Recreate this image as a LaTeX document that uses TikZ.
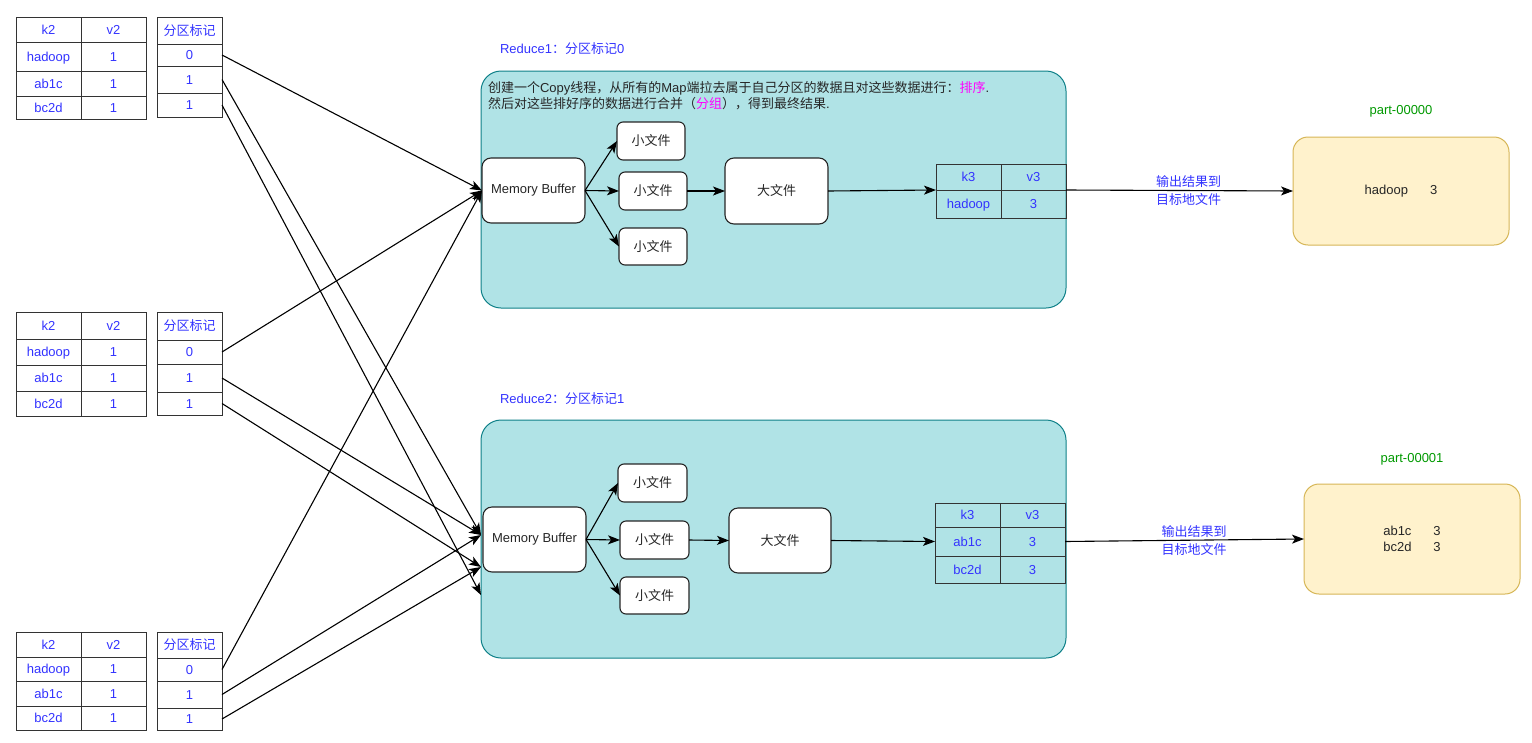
\documentclass[tikz,border=0pt]{standalone}
\usepackage{fontspec}
\setmainfont{Liberation Sans}
\newfontfamily\cjk{Noto Sans CJK SC}
\usetikzlibrary{arrows.meta}
\definecolor{tblue}{HTML}{3333FF}
\definecolor{tmag}{HTML}{FF00FF}
\definecolor{tgreen}{HTML}{009900}
\definecolor{rfill}{HTML}{B0E3E6}
\definecolor{rdraw}{HTML}{0E8088}
\definecolor{pfill}{HTML}{FFF2CC}
\definecolor{pdraw}{HTML}{D6B656}
\newcommand\zh[1]{{\cjk #1}}
\newcommand\boxat[7]{\node[#1, minimum width={(#5-#3)*1pt}, minimum height={(#6-#4)*1pt}] (#2) at ({(#3+#5)/2},{(#4+#6)/2}) {#7};}
\tikzset{
  base/.style={inner sep=0pt, outer sep=0pt, font=\fontsize{13}{16}\selectfont},
  cellbox/.style={base, rectangle, draw=black!80, line width=1pt, text=tblue, text height=11pt, text depth=2pt},
  rbox/.style={base, rectangle, draw=rdraw, fill=rfill, line width=1pt, rounded corners=20pt},
  wbox/.style={base, rectangle, draw=black!85, fill=white, line width=1.1pt, rounded corners=9pt, text=black!85},
  fbox/.style={base, rectangle, draw=black!85, fill=white, line width=1.1pt, rounded corners=6pt, text=black!85},
  pbox/.style={base, rectangle, draw=pdraw, fill=pfill, line width=1pt, rounded corners=15pt, text=black!85, align=center},
  arr/.style={draw=black, line width=1.1pt, -{Stealth[length=12pt,width=9pt,inset=3pt]}},
  lbl/.style={base, text=tblue, align=center, font=\fontsize{13}{18}\selectfont},
  blab/.style={base, text=tblue, anchor=west},
  glab/.style={base, text=tgreen}
}
\begin{document}
\begin{tikzpicture}[x=1pt,y=-1pt]
\useasboundingbox (0,0) rectangle (1532,742);
% ---------- Map output tables ----------
% Table A
\boxat{cellbox}{ak}{16}{17}{81}{42}{k2}
\boxat{cellbox}{av}{81}{17}{146}{42}{v2}
\boxat{cellbox}{ak1}{16}{42}{81}{71}{hadoop}
\boxat{cellbox}{av1}{81}{42}{146}{71}{1}
\boxat{cellbox}{ak2}{16}{71}{81}{96}{ab1c}
\boxat{cellbox}{av2}{81}{71}{146}{96}{1}
\boxat{cellbox}{ak3}{16}{96}{81}{119}{bc2d}
\boxat{cellbox}{av3}{81}{96}{146}{119}{1}
\boxat{cellbox}{ap}{157}{17}{222}{44}{\zh{分区标记}}
\boxat{cellbox}{ap0}{157}{44}{222}{66}{0}
\boxat{cellbox}{ap1}{157}{66}{222}{93}{1}
\boxat{cellbox}{ap2}{157}{93}{222}{117}{1}
% Table B
\boxat{cellbox}{bk}{16}{312}{81}{339}{k2}
\boxat{cellbox}{bv}{81}{312}{146}{339}{v2}
\boxat{cellbox}{bk1}{16}{339}{81}{365}{hadoop}
\boxat{cellbox}{bv1}{81}{339}{146}{365}{1}
\boxat{cellbox}{bk2}{16}{365}{81}{391}{ab1c}
\boxat{cellbox}{bv2}{81}{365}{146}{391}{1}
\boxat{cellbox}{bk3}{16}{391}{81}{416}{bc2d}
\boxat{cellbox}{bv3}{81}{391}{146}{416}{1}
\boxat{cellbox}{bp}{157}{312}{222}{340}{\zh{分区标记}}
\boxat{cellbox}{bp0}{157}{340}{222}{364}{0}
\boxat{cellbox}{bp1}{157}{364}{222}{392}{1}
\boxat{cellbox}{bp2}{157}{392}{222}{415}{1}
% Table C
\boxat{cellbox}{ck}{16}{632}{81}{657}{k2}
\boxat{cellbox}{cv}{81}{632}{146}{657}{v2}
\boxat{cellbox}{ck1}{16}{657}{81}{681}{hadoop}
\boxat{cellbox}{cv1}{81}{657}{146}{681}{1}
\boxat{cellbox}{ck2}{16}{681}{81}{706}{ab1c}
\boxat{cellbox}{cv2}{81}{681}{146}{706}{1}
\boxat{cellbox}{ck3}{16}{706}{81}{730}{bc2d}
\boxat{cellbox}{cv3}{81}{706}{146}{730}{1}
\boxat{cellbox}{cp}{157}{632}{222}{658}{\zh{分区标记}}
\boxat{cellbox}{cp0}{157}{658}{222}{681}{0}
\boxat{cellbox}{cp1}{157}{681}{222}{708}{1}
\boxat{cellbox}{cp2}{157}{708}{222}{730}{1}
% ---------- Reduce 1 ----------
\node[blab] (r1lab) at (500,49) {Reduce1\zh{：分区标记}0};
\boxat{rbox}{r1}{481}{71}{1066}{308}{}
\node[base, anchor=base west, align=left, text=black!85] (r1txt) at (488,108.5) {\zh{创建一个}Copy\zh{线程，从所有的}Map\zh{端拉去属于自己分区的数据且对这些数据进行：}\textcolor{tmag}{\zh{排序}}.\\\zh{然后对这些排好序的数据进行合并（}\textcolor{tmag}{\zh{分组}}\zh{），得到最终结果}.};
\boxat{wbox}{mb1}{482}{158}{585}{223}{Memory Buffer}
\boxat{fbox}{s1a}{617}{122}{685}{160}{\zh{小文件}}
\boxat{fbox}{s1b}{619}{172}{687}{210}{\zh{小文件}}
\boxat{fbox}{s1c}{619}{228}{687}{265}{\zh{小文件}}
\boxat{wbox}{b1}{725}{158}{828}{224}{\zh{大文件}}
\boxat{cellbox}{k1h}{936}{164}{1001}{190}{k3}
\boxat{cellbox}{k1hv}{1001}{164}{1066}{190}{v3}
\boxat{cellbox}{k1a}{936}{190}{1001}{218}{hadoop}
\boxat{cellbox}{k1av}{1001}{190}{1066}{218}{3}
\node[glab] (p0lab) at (1401,111) {part-00000};
\boxat{pbox}{p0}{1293}{137}{1509}{245}{hadoop\hspace{22pt}3}
% ---------- Reduce 2 ----------
\node[blab] (r2lab) at (500,399) {Reduce2\zh{：分区标记}1};
\boxat{rbox}{r2}{481}{420}{1066}{658}{}
\boxat{wbox}{mb2}{483}{507}{586}{572}{Memory Buffer}
\boxat{fbox}{s2a}{618}{464}{687}{502}{\zh{小文件}}
\boxat{fbox}{s2b}{620}{521}{689}{559}{\zh{小文件}}
\boxat{fbox}{s2c}{620}{577}{689}{614}{\zh{小文件}}
\boxat{wbox}{b2}{729}{508}{831}{573}{\zh{大文件}}
\boxat{cellbox}{k2h}{935}{503}{1000}{527}{k3}
\boxat{cellbox}{k2hv}{1000}{503}{1065}{527}{v3}
\boxat{cellbox}{k2a}{935}{527}{1000}{556}{ab1c}
\boxat{cellbox}{k2av}{1000}{527}{1065}{556}{3}
\boxat{cellbox}{k2b}{935}{556}{1000}{583}{bc2d}
\boxat{cellbox}{k2bv}{1000}{556}{1065}{583}{3}
\node[glab] (p1lab) at (1412,459) {part-00001};
\boxat{pbox}{p1}{1304}{484}{1520}{594}{ab1c\hspace{22pt}3\\bc2d\hspace{22pt}3}
% ---------- arrows inside reducers ----------
\draw[arr] (mb1.east) -- (s1a.west);
\draw[arr] (mb1.east) -- (s1b.west);
\draw[arr] (mb1.east) -- (s1c.west);
\draw[arr] (s1b.east) -- (b1.west);
\draw[arr] (b1.east) -- (k1h.south west);
\draw[arr] (k1hv.south east) -- node[lbl, pos=0.54] {\zh{输出结果到}\\\zh{目标地文件}} (p0.west);
\draw[arr] (mb2.east) -- (s2a.west);
\draw[arr] (mb2.east) -- (s2b.west);
\draw[arr] (mb2.east) -- (s2c.west);
\draw[arr] (s2b.east) -- (b2.west);
\draw[arr] (b2.east) -- (k2a.west);
\draw[arr] (k2av.east) -- node[lbl, pos=0.54] {\zh{输出结果到}\\\zh{目标地文件}} (p1.west);
% ---------- shuffle arrows ----------
\coordinate (m2a) at (481,535);
\coordinate (m2b) at (481,567);
\coordinate (m2c) at (481,595);
\draw[arr] (ap0.east) -- (mb1.west);
\draw[arr] (bp0.east) -- (mb1.west);
\draw[arr] (cp0.east) -- (mb1.west);
\draw[arr] (ap1.east) -- (m2a);
\draw[arr] (bp1.east) -- (m2a);
\draw[arr] (cp1.east) -- (m2a);
\draw[arr] (bp2.east) -- (m2b);
\draw[arr] (cp2.east) -- (m2b);
\draw[arr] (ap2.east) -- (m2c);
\end{tikzpicture}
\end{document}
